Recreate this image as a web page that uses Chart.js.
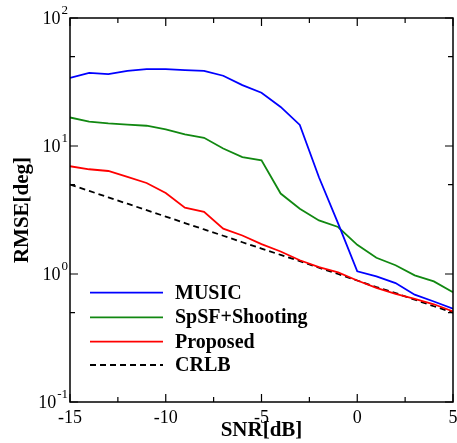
<!DOCTYPE html>
<html>
<head>
<meta charset="utf-8">
<script src="https://cdn.jsdelivr.net/npm/chart.js@4.4.1/dist/chart.umd.min.js"></script>
<style>
  html, body { margin: 0; padding: 0; background: #fff; }
  #wrap { width: 457px; height: 443px; }
</style>
</head>
<body>
<div id="wrap"><canvas id="rmseChart" width="457" height="443"></canvas></div>
<script>
// ── Data ──────────────────────────────────────────────
const snr = [-15, -14, -13, -12, -11, -10, -9, -8, -7, -6, -5, -4, -3, -2, -1, 0, 1, 2, 3, 4, 5];
const music = [34, 37.3, 36.5, 38.7, 39.9, 39.9, 39.2, 38.7, 35.4, 29.9, 26.1, 20.2, 14.6, 5.7, 2.49, 1.05, 0.957, 0.849, 0.689, 0.61, 0.535];
const spsf = [16.7, 15.5, 15.0, 14.7, 14.4, 13.5, 12.3, 11.6, 9.55, 8.2, 7.74, 4.25, 3.24, 2.62, 2.33, 1.69, 1.34, 1.17, 0.975, 0.875, 0.72];
const proposed = [6.95, 6.58, 6.38, 5.73, 5.14, 4.3, 3.3, 3.06, 2.26, 2.0, 1.71, 1.5, 1.28, 1.13, 1.03, 0.89, 0.78, 0.70, 0.64, 0.58, 0.51];
const crlb = [5.0, 4.46, 3.97, 3.54, 3.15, 2.81, 2.5, 2.23, 1.99, 1.77, 1.58, 1.41, 1.26, 1.12, 1.0, 0.89, 0.79, 0.71, 0.63, 0.56, 0.5];

const xMajor = [-15, -10, -5, 0, 5];
const xMinor = [-12.5, -7.5, -2.5, 2.5];
const yMajor = [0.1, 1, 10, 100];
const yExp = ["-1", "0", "1", "2"];
const yMinor = [0.5, 5, 50];

const SERIF = "'Liberation Serif', 'Times New Roman', serif";

const toPoints = (vals) => snr.map((x, i) => ({ x: x, y: vals[i] }));

// ── Frame, inward ticks, y labels, legend ─────────────
const decorations = {
  id: "decorations",
  afterDraw(chart) {
    const ctx = chart.ctx;
    const a = chart.chartArea;
    const xs = chart.scales.x;
    const ys = chart.scales.y;
    ctx.save();
    ctx.strokeStyle = "#000";
    ctx.lineWidth = 1.5;
    ctx.strokeRect(a.left, a.top, a.right - a.left, a.bottom - a.top);

    ctx.lineWidth = 1.2;
    ctx.beginPath();
    const xTick = (v, len) => {
      const px = xs.getPixelForValue(v);
      ctx.moveTo(px, a.bottom); ctx.lineTo(px, a.bottom - len);
      ctx.moveTo(px, a.top); ctx.lineTo(px, a.top + len);
    };
    const yTick = (v, len) => {
      const py = ys.getPixelForValue(v);
      ctx.moveTo(a.left, py); ctx.lineTo(a.left + len, py);
      ctx.moveTo(a.right, py); ctx.lineTo(a.right - len, py);
    };
    xMajor.forEach((v) => xTick(v, 8));
    xMinor.forEach((v) => xTick(v, 5));
    yMajor.forEach((v) => yTick(v, 8));
    yMinor.forEach((v) => yTick(v, 5));
    ctx.stroke();

    // y tick labels as 10^n
    ctx.fillStyle = "#000";
    ctx.textBaseline = "middle";
    yMajor.forEach((v, i) => {
      const py = ys.getPixelForValue(v);
      ctx.font = "13px " + SERIF;
      const ew = ctx.measureText(yExp[i]).width;
      ctx.textAlign = "right";
      ctx.fillText(yExp[i], a.left - 2, py - 7);
      ctx.font = "18px " + SERIF;
      ctx.fillText("10", a.left - 3 - ew, py + 1);
    });

    // legend
    const rowY = [292.7, 317.3, 341.7, 365];
    ctx.textAlign = "left";
    ctx.font = "bold 20px " + SERIF;
    chart.data.datasets.forEach((ds, i) => {
      const y = rowY[i];
      ctx.strokeStyle = ds.borderColor;
      ctx.lineWidth = ds.borderWidth;
      ctx.setLineDash(ds.borderDash || []);
      ctx.beginPath();
      ctx.moveTo(a.left + 20, y);
      ctx.lineTo(a.left + 93, y);
      ctx.stroke();
      ctx.setLineDash([]);
      ctx.fillStyle = "#000";
      ctx.fillText(ds.label, a.left + 105, y + 1);
    });
    ctx.restore();
  }
};

new Chart(document.getElementById("rmseChart"), {
  type: "line",
  data: {
    datasets: [
      { label: "MUSIC", data: toPoints(music), borderColor: "#0000ff", borderWidth: 1.8 },
      { label: "SpSF+Shooting", data: toPoints(spsf), borderColor: "#118811", borderWidth: 1.8 },
      { label: "Proposed", data: toPoints(proposed), borderColor: "#ff0000", borderWidth: 1.8 },
      { label: "CRLB", data: toPoints(crlb), borderColor: "#000000", borderWidth: 1.8, borderDash: [6, 4] }
    ]
  },
  options: {
    responsive: false,
    animation: false,
    devicePixelRatio: 1,
    elements: { point: { radius: 0 }, line: { tension: 0, fill: false } },
    layout: { padding: { top: 18, right: 4, left: 0, bottom: 0 } },
    plugins: { legend: { display: false }, tooltip: { enabled: false } },
    scales: {
      x: {
        type: "linear",
        min: -15,
        max: 5,
        ticks: { stepSize: 5, color: "#000", font: { family: SERIF, size: 18 }, padding: 5, maxRotation: 0 },
        grid: { display: false, drawTicks: false },
        border: { display: false },
        title: { display: true, text: "SNR[dB]", color: "#000", font: { family: SERIF, size: 21, weight: "bold" }, padding: 0 },
        afterFit(scale) {
          scale.height = 41;
          scale.paddingLeft = 0;
          scale.paddingRight = 0;
        }
      },
      y: {
        type: "logarithmic",
        min: 0.1,
        max: 100,
        ticks: { display: false },
        grid: { display: false, drawTicks: false },
        border: { display: false },
        title: { display: true, text: "RMSE[deg]", color: "#000", font: { family: SERIF, size: 21, weight: "bold" }, padding: 10 },
        afterFit(scale) {
          scale.width = 70;
          scale.paddingTop = 0;
          scale.paddingBottom = 0;
        }
      }
    }
  },
  plugins: [decorations]
});
</script>
</body>
</html>
